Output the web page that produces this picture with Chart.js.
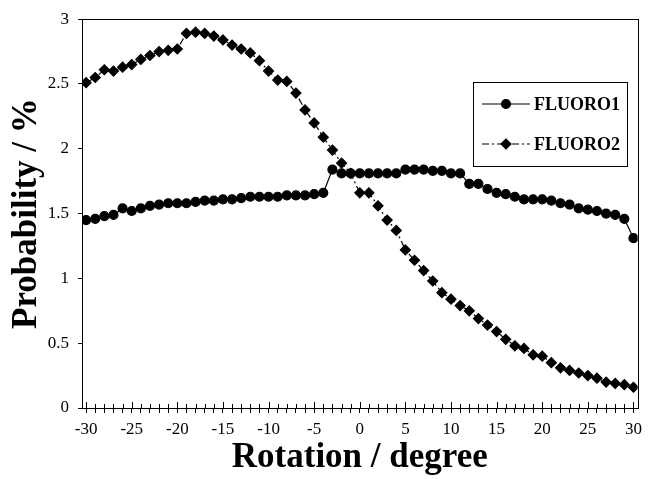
<!DOCTYPE html>
<html lang="en">
<head>
    <meta charset="UTF-8">
    <title>FLUORO1 / FLUORO2 probability vs rotation</title>
    <style>
        body {
            margin: 0;
            background: #ffffff;
        }
        canvas {
            display: block;
        }
    </style>
</head>
<body>
    <canvas id="probChart" width="648" height="479"></canvas>

    <script src="https://cdn.jsdelivr.net/npm/chart.js"></script>
    <script>
        // rotation angle (degree), one point per degree
        const degrees = [-30, -29, -28, -27, -26, -25, -24, -23, -22, -21, -20,
                         -19, -18, -17, -16, -15, -14, -13, -12, -11, -10,
                         -9, -8, -7, -6, -5, -4, -3, -2, -1, 0,
                         1, 2, 3, 4, 5, 6, 7, 8, 9, 10,
                         11, 12, 13, 14, 15, 16, 17, 18, 19, 20,
                         21, 22, 23, 24, 25, 26, 27, 28, 29, 30];

        // probability (%)
        const fluoro1 = [1.45, 1.46, 1.48, 1.49, 1.54, 1.52, 1.54, 1.56, 1.57, 1.58, 1.58,
                         1.58, 1.59, 1.60, 1.60, 1.61, 1.61, 1.62, 1.63, 1.63, 1.63,
                         1.63, 1.64, 1.64, 1.64, 1.65, 1.66, 1.84, 1.81, 1.81, 1.81,
                         1.81, 1.81, 1.81, 1.81, 1.84, 1.84, 1.84, 1.83, 1.83, 1.81,
                         1.81, 1.73, 1.73, 1.69, 1.66, 1.65, 1.63, 1.61, 1.61, 1.61,
                         1.60, 1.58, 1.57, 1.54, 1.53, 1.52, 1.50, 1.49, 1.46, 1.31];

        const fluoro2 = [2.51, 2.55, 2.61, 2.60, 2.63, 2.65, 2.69, 2.72, 2.75, 2.76, 2.77,
                         2.89, 2.90, 2.89, 2.87, 2.84, 2.80, 2.77, 2.74, 2.68, 2.60,
                         2.53, 2.52, 2.43, 2.30, 2.20, 2.09, 1.99, 1.89, 1.81, 1.66,
                         1.66, 1.56, 1.45, 1.37, 1.22, 1.14, 1.06, 0.98, 0.89, 0.84,
                         0.79, 0.75, 0.69, 0.64, 0.59, 0.53, 0.48, 0.46, 0.41, 0.40,
                         0.35, 0.31, 0.29, 0.27, 0.25, 0.23, 0.20, 0.19, 0.18, 0.16];

        const seriesNames = ['FLUORO1', 'FLUORO2'];
        const xLabelStep = 5;
        const yTicks = [0, 0.5, 1, 1.5, 2, 2.5, 3];

        const serif = "'Liberation Serif', 'Times New Roman', serif";

        function toPoints(values) {
            return degrees.map((d, i) => ({ x: d, y: values[i] }));
        }

        // plot frame, inner tick marks on the x axis and the boxed legend
        const framePlugin = {
            id: 'frame',
            afterDraw(chart) {
                const ctx = chart.ctx;
                const area = chart.chartArea;
                const xs = chart.scales.x;
                ctx.save();
                ctx.strokeStyle = '#000';
                ctx.lineWidth = 1;
                ctx.strokeRect(Math.round(area.left) + 0.5, Math.round(area.top) + 0.5,
                               Math.round(area.right - area.left), Math.round(area.bottom - area.top));

                ctx.beginPath();
                xs.ticks.forEach(t => {
                    const px = Math.round(xs.getPixelForValue(t.value)) + 0.5;
                    const len = t.value % xLabelStep === 0 ? 6 : 4;
                    ctx.moveTo(px, area.bottom);
                    ctx.lineTo(px, area.bottom - len);
                });
                ctx.stroke();

                // legend box
                const box = { left: 473, top: 82, width: 154, height: 84 };
                ctx.strokeRect(box.left + 0.5, box.top + 0.5, box.width, box.height);
                const rows = [104, 144];
                chart.data.datasets.forEach((ds, i) => {
                    const y = rows[i];
                    ctx.strokeStyle = '#000';
                    ctx.lineWidth = 1.2;
                    ctx.setLineDash(ds.borderDash || []);
                    ctx.beginPath();
                    ctx.moveTo(482, y);
                    ctx.lineTo(530, y);
                    ctx.stroke();
                    ctx.setLineDash([]);
                    ctx.fillStyle = '#000';
                    Chart.helpers.drawPoint(ctx, {
                        pointStyle: ds.pointStyle,
                        radius: ds.pointRadius,
                        borderWidth: 1,
                        rotation: 0
                    }, 506, y);
                    ctx.font = 'bold 18px ' + serif;
                    ctx.textBaseline = 'middle';
                    ctx.textAlign = 'left';
                    ctx.fillText(ds.label, 534, y + 1);
                });
                ctx.restore();
            }
        };

        const chart = new Chart(document.getElementById('probChart'), {
            type: 'line',
            data: {
                datasets: [
                    {
                        label: seriesNames[0],
                        data: toPoints(fluoro1),
                        borderColor: '#000',
                        backgroundColor: '#000',
                        borderWidth: 1.2,
                        pointStyle: 'circle',
                        pointRadius: 4.5,
                        pointBackgroundColor: '#000',
                        pointBorderColor: '#000',
                        tension: 0
                    },
                    {
                        label: seriesNames[1],
                        data: toPoints(fluoro2),
                        borderColor: '#000',
                        backgroundColor: '#000',
                        borderWidth: 1.2,
                        borderDash: [7, 3, 2, 3],
                        pointStyle: 'rectRot',
                        pointRadius: 5,
                        pointBackgroundColor: '#000',
                        pointBorderColor: '#000',
                        tension: 0
                    }
                ]
            },
            options: {
                responsive: false,
                animation: false,
                layout: {
                    padding: { top: 18, right: 6, left: 0, bottom: 0 }
                },
                plugins: {
                    legend: { display: false },
                    tooltip: { enabled: false }
                },
                scales: {
                    x: {
                        type: 'linear',
                        min: -30.45,
                        max: 30.45,
                        afterFit(scale) { scale.height = 71; },
                        border: { display: false },
                        grid: {
                            drawOnChartArea: false,
                            drawTicks: true,
                            tickLength: 5,
                            color: '#000'
                        },
                        ticks: {
                            stepSize: 1,
                            includeBounds: false,
                            autoSkip: false,
                            maxRotation: 0,
                            padding: 6,
                            color: '#000',
                            font: { family: serif, size: 17 },
                            callback: v => (v % xLabelStep === 0 ? String(v) : '')
                        },
                        title: {
                            display: true,
                            text: 'Rotation / degree',
                            color: '#000',
                            font: { family: serif, size: 35, weight: 'bold' },
                            padding: { top: 0, bottom: 0 }
                        }
                    },
                    y: {
                        min: 0,
                        max: 3,
                        afterFit(scale) { scale.width = 82; },
                        afterBuildTicks(scale) {
                            scale.ticks = yTicks.map(v => ({ value: v }));
                        },
                        border: { display: false },
                        grid: {
                            drawOnChartArea: false,
                            drawTicks: true,
                            tickLength: 4,
                            color: '#000'
                        },
                        ticks: {
                            padding: 9,
                            color: '#000',
                            font: { family: serif, size: 17 },
                            callback: v => String(v)
                        },
                        title: {
                            display: true,
                            text: 'Probability / %',
                            color: '#000',
                            font: { family: serif, size: 35, weight: 'bold' },
                            padding: { top: 6, bottom: 0 }
                        }
                    }
                }
            },
            plugins: [framePlugin]
        });
    </script>
</body>
</html>
